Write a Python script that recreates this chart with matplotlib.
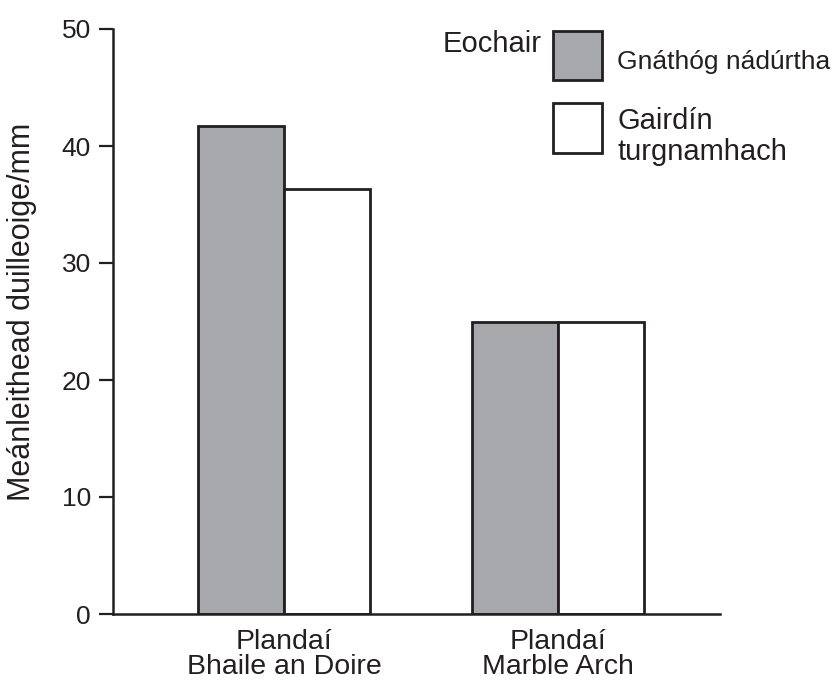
import numpy as np
import matplotlib.pyplot as plt
from matplotlib.patches import Rectangle

plt.rcParams['font.family'] = ['Liberation Sans', 'DejaVu Sans']

groups = ['Plandaí\nBhaile an Doire', 'Plandaí\nMarble Arch']
natural = [41.7, 25.0]       # Gnáthóg nádúrtha
garden = [36.3, 25.0]        # Gairdín turgnamhach
yticks = [0, 10, 20, 30, 40, 50]

ink = '#231f20'
grey = '#a7a8ab'

fig = plt.figure(figsize=(8.38, 6.91), dpi=100)
ax = fig.add_axes([113/838, 1-614/691, 607/838, 585/691])

centers = np.array([1.99, 5.17])
w = 1.0
ax.bar(centers - w/2, natural, w, color=grey, edgecolor=ink, linewidth=2)
ax.bar(centers + w/2, garden, w, color='white', edgecolor=ink, linewidth=2)

ax.set_xlim(0, 607/86)
ax.set_ylim(0, 50)
ax.set_yticks(yticks)
ax.set_xticks(centers)
ax.set_xticklabels(groups, fontsize=20.5, color=ink, linespacing=0.95)
ax.tick_params(axis='x', length=0, pad=11)
ax.tick_params(axis='y', length=10, width=1.6, color=ink, labelsize=19, labelcolor=ink, pad=6)
for s in ['top', 'right']:
    ax.spines[s].set_visible(False)
for s in ['left', 'bottom']:
    ax.spines[s].set_linewidth(1.8)
    ax.spines[s].set_color(ink)
ax.set_ylabel('Meánleithead duilleoige/mm', fontsize=22, color=ink)
ax.yaxis.label.set_va('center')
ax.yaxis.set_label_coords(-91/607, (614-312)/585)

# key
fig.text(443/838, 1-52/691, 'Eochair', fontsize=21, color=ink, va='baseline', ha='left')
fig.patches.append(Rectangle((553/838, 1-80/691), 49/838, 49/691, transform=fig.transFigure,
                             facecolor=grey, edgecolor=ink, linewidth=2))
fig.patches.append(Rectangle((553/838, 1-153/691), 49/838, 50/691, transform=fig.transFigure,
                             facecolor='white', edgecolor=ink, linewidth=2))
fig.text(617/838, 1-69/691, 'Gnáthóg nádúrtha', fontsize=19, color=ink, va='baseline', ha='left')
fig.text(617/838, 1-129/691, 'Gairdín', fontsize=21, color=ink, va='baseline', ha='left')
fig.text(617/838, 1-160/691, 'turgnamhach', fontsize=21, color=ink, va='baseline', ha='left')

fig.savefig('out.png', dpi=100)
